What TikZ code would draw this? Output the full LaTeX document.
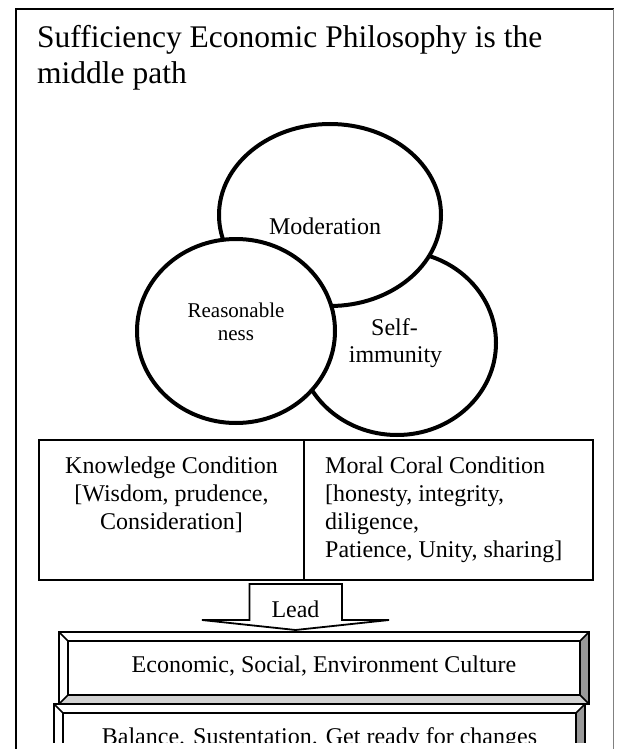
\documentclass[tikz,border=0pt]{standalone}
\usepackage{fontspec}
\setmainfont{Liberation Serif}
\usetikzlibrary{shapes.geometric}
\definecolor{bevlight}{gray}{0.82}
\definecolor{bevdark}{gray}{0.6}
\begin{document}
\begin{tikzpicture}[x=1pt,y=-1pt,
 circ/.style={ellipse, draw, line width=4pt, fill=white, inner sep=0pt},
 body/.style={inner sep=0pt, font=\fontsize{24}{28}\selectfont, anchor=base},
 bodyl/.style={body, anchor=base west},
 ttl/.style={inner sep=0pt, font=\fontsize{31.5}{36}\selectfont, anchor=base west},
 small/.style={inner sep=0pt, font=\fontsize{21}{24}\selectfont, anchor=base},
 cbox/.style={draw, line width=2pt, fill=white, inner sep=0pt},
 bev/.style={draw, line width=1.6pt, line join=miter}
]
\useasboundingbox (0,0) rectangle (616,749);
\fill[white] (0,0) rectangle (616,749);
% frame
\draw[line width=2pt] (16,749) -- (16,9) -- (614,9);
\draw[gray, line width=1pt] (613.5,9) -- (613.5,749);
% title
\node[ttl] (t1) at (37,48) {Sufficiency Economic Philosophy is the};
\node[ttl] (t2) at (37,84) {middle path};
% circles
\node[circ, minimum width=198pt, minimum height=184pt] (self) at (397,343) {};
\node[circ, minimum width=222pt, minimum height=182pt] (mod) at (330,215) {};
\node[circ, minimum width=198pt, minimum height=184pt] (reas) at (236,331) {};
\node[body] (modt) at (325,234) {Moderation};
\node[small] (reas1) at (236,317) {Reasonable};
\node[small] (reas2) at (236,340) {ness};
\node[body] (self1) at (394.5,335) {Self-};
\node[body] (self2) at (395.5,362) {immunity};
% condition boxes
\node[cbox, minimum width=265pt, minimum height=140pt] (know) at (171.5,510) {};
\node[cbox, minimum width=289pt, minimum height=140pt] (moral) at (448.5,510) {};
\node[body] (k1) at (171.5,473) {Knowledge Condition};
\node[body] (k2) at (171.5,501) {[Wisdom, prudence,};
\node[body] (k3) at (171.5,529) {Consideration]};
\node[bodyl] (m1) at (325,473) {Moral Coral Condition};
\node[bodyl] (m2) at (325,501) {[honesty, integrity,};
\node[bodyl] (m3) at (325,529) {diligence,};
\node[bodyl] (m4) at (325,557) {Patience, Unity, sharing]};
% lead arrow
\draw[line width=1.8pt, fill=white, line join=miter] (249.5,584) -- (342,584) -- (342,620) -- (389,620) -- (295.5,630) -- (202,620) -- (249.5,620) -- cycle;
\node[body] (lead) at (295.5,617) {Lead};
% economic bevel box
\fill[white] (59,632) rectangle (589,704);
\fill[bevlight] (59,704) -- (68,695) -- (580,695) -- (589,704) -- cycle;
\fill[bevdark] (589,632) -- (580,641) -- (580,695) -- (589,704) -- cycle;
\draw[bev] (59,632) rectangle (589,704);
\draw[bev] (68,641) rectangle (580,695);
\draw[bev] (59,632) -- (68,641) (589,632) -- (580,641) (59,704) -- (68,695) (589,704) -- (580,695);
\node[body] (econ) at (324,672) {Economic, Social, Environment Culture};
% balance bevel box (cut off)
\begin{scope}
\clip (0,0) rectangle (616,742.5);
\fill[white] (54,704) rectangle (585,800);
\fill[bevdark] (585,704) -- (576,713) -- (576,800) -- (585,800) -- cycle;
\draw[bev] (54,704) rectangle (585,800);
\draw[bev] (63,713) rectangle (576,800);
\draw[bev] (54,704) -- (63,713) (585,704) -- (576,713);
\node[body] (bal) at (319.5,744) {Balance. Sustentation. Get ready for changes};
\end{scope}
\end{tikzpicture}
\end{document}
